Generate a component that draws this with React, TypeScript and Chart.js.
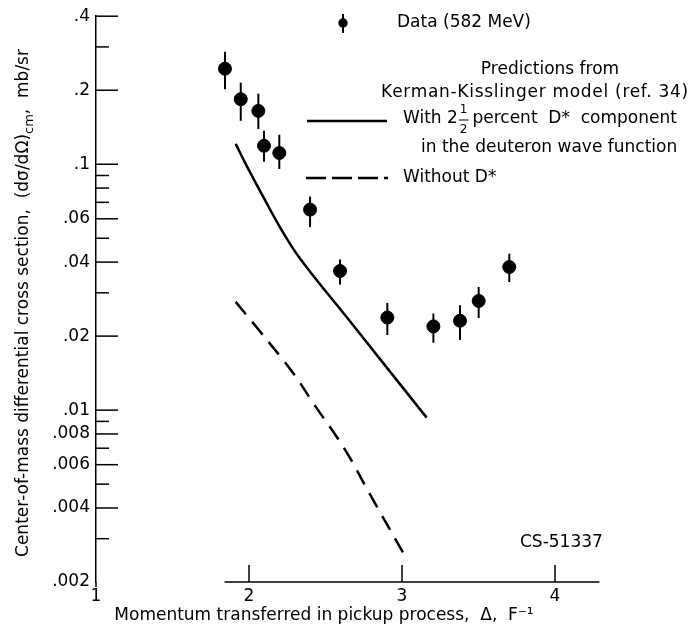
import React, { useEffect, useRef } from 'react';
import { Chart, registerables } from 'chart.js';

Chart.register(...registerables);

// Measured data (582 MeV)
const dataX = [1.843, 1.946, 2.061, 2.098, 2.198, 2.399, 2.595, 2.904, 3.205, 3.379, 3.501, 3.701];
const dataY = [0.2446, 0.1839, 0.1648, 0.1189, 0.1111, 0.0654, 0.0368, 0.0238, 0.0219, 0.0231, 0.0278, 0.0382];
const errHigh = [0.2866, 0.2147, 0.1937, 0.1368, 0.1318, 0.0739, 0.041, 0.0273, 0.0247, 0.0267, 0.0317, 0.0433];
const errLow = [0.2019, 0.1502, 0.139, 0.1024, 0.0957, 0.0555, 0.0324, 0.0202, 0.0188, 0.0193, 0.0237, 0.0332];

// Prediction with 2 1/2 percent D* component
const solidX = [1.913, 1.978, 2.094, 2.214, 2.333, 2.638, 3.161];
const solidY = [0.121, 0.1004, 0.0735, 0.0539, 0.0414, 0.0239, 0.00932];

// Prediction without D*
const dashX = [1.913, 2.059, 2.288, 2.418, 2.627, 2.791, 3.039];
const dashY = [0.02757, 0.02136, 0.01417, 0.01072, 0.00691, 0.00454, 0.00243];

const xTicks = [1, 2, 3, 4];
const xAxisLineFrom = 1.84;
const yTicksMajor = [0.4, 0.2, 0.1, 0.06, 0.04, 0.02, 0.01, 0.008, 0.006, 0.004, 0.002];
const yTicksMinor = [0.3, 0.09, 0.08, 0.07, 0.05, 0.03, 0.009, 0.007, 0.005, 0.003];

const yTitleMain = 'Center-of-mass differential cross section,  (dσ/dΩ)';
const yTitleSub = 'cm';
const yTitleEnd = ',  mb/sr';
const xTitle = 'Momentum transferred in pickup process,  Δ,  F⁻¹';
const legendData = 'Data (582 MeV)';
const legendHead1 = 'Predictions from';
const legendHead2 = 'Kerman-Kisslinger model (ref. 34)';
const legendSolidA = 'With 2';
const legendSolidB = 'percent  D*  component';
const legendSolidC = 'in the deuteron wave function';
const legendDashed = 'Without D*';
const figId = 'CS-51337';

const FONT = '"DejaVu Sans", sans-serif';

const fmtY = (v: number) => String(v).replace(/^0/, '');

const decor = {
  id: 'decor',
  afterDatasetsDraw(chart: any) {
    const { ctx, chartArea } = chart;
    const xs = chart.scales.x;
    const ys = chart.scales.y;
    ctx.save();
    ctx.strokeStyle = '#000';
    ctx.fillStyle = '#000';
    ctx.lineCap = 'butt';

    // x axis line (broken, starts near data)
    ctx.lineWidth = 1.5;
    ctx.beginPath();
    ctx.moveTo(xs.getPixelForValue(xAxisLineFrom), chartArea.bottom);
    ctx.lineTo(xs.getPixelForValue(xs.max), chartArea.bottom);
    ctx.stroke();
    // y axis extends slightly below
    ctx.beginPath();
    ctx.moveTo(chartArea.left, chartArea.bottom);
    ctx.lineTo(chartArea.left, chartArea.bottom + 5);
    ctx.stroke();
    // x ticks pointing up
    xTicks.forEach((v) => {
      if (v <= xs.min) return;
      const px = xs.getPixelForValue(v);
      ctx.beginPath();
      ctx.moveTo(px, chartArea.bottom);
      ctx.lineTo(px, chartArea.bottom - 17);
      ctx.stroke();
    });
    // y ticks pointing inward
    const y0 = chartArea.left;
    yTicksMajor.forEach((v) => {
      if (v <= ys.min) return;
      const py = ys.getPixelForValue(v);
      ctx.beginPath();
      ctx.moveTo(y0, py);
      ctx.lineTo(y0 + 22, py);
      ctx.stroke();
    });
    yTicksMinor.forEach((v) => {
      const py = ys.getPixelForValue(v);
      ctx.beginPath();
      ctx.moveTo(y0, py);
      ctx.lineTo(y0 + 13, py);
      ctx.stroke();
    });

    // error bars
    ctx.lineWidth = 2;
    dataX.forEach((x, i) => {
      const px = xs.getPixelForValue(x);
      ctx.beginPath();
      ctx.moveTo(px, ys.getPixelForValue(errHigh[i]));
      ctx.lineTo(px, ys.getPixelForValue(errLow[i]));
      ctx.stroke();
    });

    // legend
    ctx.lineWidth = 2;
    ctx.beginPath();
    ctx.moveTo(343, 14);
    ctx.lineTo(343, 33);
    ctx.stroke();
    ctx.beginPath();
    ctx.arc(343, 23, 4.7, 0, Math.PI * 2);
    ctx.fill();

    ctx.lineWidth = 2.5;
    ctx.beginPath();
    ctx.moveTo(307, 121);
    ctx.lineTo(387, 121);
    ctx.stroke();
    ctx.setLineDash([20, 6]);
    ctx.beginPath();
    ctx.moveTo(306, 178);
    ctx.lineTo(388, 178);
    ctx.stroke();
    ctx.setLineDash([]);

    ctx.font = `17px ${FONT}`;
    ctx.textBaseline = 'middle';
    ctx.textAlign = 'left';
    ctx.fillText(legendData, 397, 23);
    ctx.textAlign = 'center';
    ctx.fillText(legendHead1, 550, 70);
    ctx.letterSpacing = '0.7px';
    ctx.fillText(legendHead2, 535, 93);
    ctx.letterSpacing = '0px';
    ctx.textAlign = 'left';
    let tx = 403;
    ctx.fillText(legendSolidA, tx, 119);
    tx += ctx.measureText(legendSolidA).width + 1;
    ctx.font = `12px ${FONT}`;
    ctx.textAlign = 'center';
    const fw = ctx.measureText('1').width;
    ctx.fillText('1', tx + fw / 2 + 1, 110);
    ctx.fillText('2', tx + fw / 2 + 1, 130);
    ctx.lineWidth = 1;
    ctx.beginPath();
    ctx.moveTo(tx, 120);
    ctx.lineTo(tx + fw + 2, 120);
    ctx.stroke();
    tx += fw + 6;
    ctx.font = `17px ${FONT}`;
    ctx.textAlign = 'left';
    ctx.fillText(legendSolidB, tx, 119);
    ctx.fillText(legendSolidC, 421, 148);
    ctx.fillText(legendDashed, 403, 178);
    ctx.fillText(figId, 520, 543);

    // x title
    ctx.font = `17px ${FONT}`;
    ctx.textAlign = 'center';
    ctx.fillText(xTitle, 324, 616);

    // y title (rotated, with subscript)
    ctx.translate(24, 303);
    ctx.rotate(-Math.PI / 2);
    ctx.font = `17px ${FONT}`;
    const w1 = ctx.measureText(yTitleMain).width;
    const w3 = ctx.measureText(yTitleEnd).width;
    ctx.font = `13px ${FONT}`;
    const w2 = ctx.measureText(yTitleSub).width;
    const total = w1 + w2 + w3;
    let sx = -total / 2;
    ctx.textAlign = 'left';
    ctx.font = `17px ${FONT}`;
    ctx.fillText(yTitleMain, sx, 0);
    sx += w1;
    ctx.font = `13px ${FONT}`;
    ctx.fillText(yTitleSub, sx, 6);
    sx += w2;
    ctx.font = `17px ${FONT}`;
    ctx.fillText(yTitleEnd, sx, 0);

    ctx.restore();
  },
};

export default function App() {
  const ref = useRef<HTMLCanvasElement>(null);
  useEffect(() => {
    document.body.style.margin = '0';
    const canvas = ref.current;
    if (!canvas) return;
    const chart = new Chart(canvas, {
      type: 'scatter',
      data: {
        datasets: [
          {
            label: 'With 2½ percent D* component',
            data: solidX.map((x, i) => ({ x, y: solidY[i] })),
            showLine: true,
            borderColor: '#000',
            backgroundColor: '#000',
            borderWidth: 2.5,
            pointRadius: 0,
            tension: 0.4,
            fill: false,
          },
          {
            label: 'Without D*',
            data: dashX.map((x, i) => ({ x, y: dashY[i] })),
            showLine: true,
            borderColor: '#000',
            backgroundColor: '#000',
            borderWidth: 2.5,
            borderDash: [16, 10],
            pointRadius: 0,
            tension: 0.4,
            fill: false,
          },
          {
            label: 'Data (582 MeV)',
            data: dataX.map((x, i) => ({ x, y: dataY[i] })),
            showLine: false,
            pointRadius: 6.5,
            pointBackgroundColor: '#000',
            pointBorderColor: '#000',
            borderColor: '#000',
            backgroundColor: '#000',
          },
        ],
      },
      options: {
        animation: false,
        responsive: false,
        events: [],
        layout: { padding: { left: 0, right: 90.6, top: 15, bottom: 0 } },
        plugins: { legend: { display: false }, tooltip: { enabled: false } },
        scales: {
          x: {
            type: 'linear',
            min: 1,
            max: 4.29,
            afterBuildTicks: (s: any) => {
              s.ticks = xTicks.map((v) => ({ value: v }));
            },
            afterFit: (s: any) => {
              s.height = 49;
            },
            grid: { display: false, drawTicks: false },
            border: { display: false },
            ticks: {
              color: '#000',
              font: { family: FONT, size: 17 },
              padding: 4,
              autoSkip: false,
              maxRotation: 0,
              callback: (v: any) => String(v),
            },
          },
          y: {
            type: 'logarithmic',
            min: 0.002,
            max: 0.4,
            afterBuildTicks: (s: any) => {
              s.ticks = yTicksMajor.map((v) => ({ value: v }));
            },
            afterFit: (s: any) => {
              s.width = 96;
            },
            grid: { display: false, drawTicks: false },
            border: { display: true, color: '#000', width: 1.5 },
            ticks: {
              color: '#000',
              font: { family: FONT, size: 17 },
              padding: 6,
              autoSkip: false,
              callback: (v: any) => fmtY(Number(v)),
            },
          },
        },
      },
      plugins: [decor],
    } as any);
    return () => chart.destroy();
  }, []);
  return <canvas ref={ref} width={690} height={631} style={{ display: 'block' }} />;
}
